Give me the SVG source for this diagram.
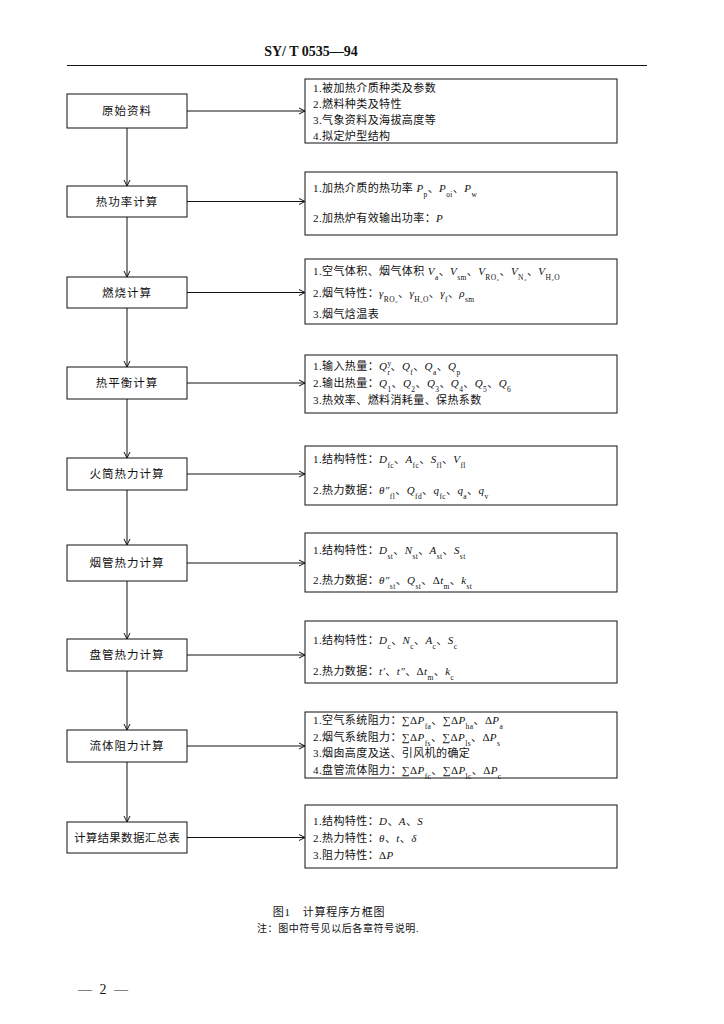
<svg xmlns="http://www.w3.org/2000/svg" width="724" height="1024" viewBox="0 0 724 1024">
<style>
.t{font-family:"Liberation Serif","Noto Sans CJK SC",serif;font-size:11px;fill:#111;letter-spacing:0.4px}
.lb{font-family:"Liberation Serif","Noto Sans CJK SC",serif;font-size:11.5px;fill:#111;text-anchor:middle;letter-spacing:1px}
.v{font-style:italic}
.s{font-size:7.5px;baseline-shift:sub}
.p{font-size:7.5px;baseline-shift:super}
.box{fill:#fff;stroke:#111;stroke-width:1}
.ln{stroke:#111;stroke-width:1;fill:none}
</style>
<defs>
<marker id="ah" markerWidth="8" markerHeight="8" refX="7" refY="4" orient="auto" markerUnits="userSpaceOnUse">
<path d="M1,1 L7,4 L1,7" fill="none" stroke="#111" stroke-width="1"/>
</marker>
</defs>
<rect width="724" height="1024" fill="#fff"/>
<text x="311" y="56" text-anchor="middle" font-family="Liberation Serif,serif" font-weight="bold" font-size="14" fill="#111">SY/ T 0535—94</text>
<line x1="67" y1="65.500" x2="647" y2="65.500" stroke="#111" stroke-width="1.200"/>

<g id="connectors">
<line class="ln" x1="127" y1="128" x2="127" y2="186" marker-end="url(#ah)"/>
<line class="ln" x1="127" y1="217" x2="127" y2="277" marker-end="url(#ah)"/>
<line class="ln" x1="127" y1="308" x2="127" y2="367" marker-end="url(#ah)"/>
<line class="ln" x1="127" y1="399" x2="127" y2="458" marker-end="url(#ah)"/>
<line class="ln" x1="127" y1="490" x2="127" y2="545" marker-end="url(#ah)"/>
<line class="ln" x1="127" y1="581" x2="127" y2="639" marker-end="url(#ah)"/>
<line class="ln" x1="127" y1="671" x2="127" y2="730" marker-end="url(#ah)"/>
<line class="ln" x1="127" y1="762" x2="127" y2="822" marker-end="url(#ah)"/>
<line class="ln" x1="187" y1="111" x2="305" y2="111" marker-end="url(#ah)"/>
<line class="ln" x1="187" y1="201.500" x2="305" y2="201.500" marker-end="url(#ah)"/>
<line class="ln" x1="187" y1="292.500" x2="305" y2="292.500" marker-end="url(#ah)"/>
<line class="ln" x1="187" y1="383" x2="305" y2="383" marker-end="url(#ah)"/>
<line class="ln" x1="187" y1="474" x2="305" y2="474" marker-end="url(#ah)"/>
<line class="ln" x1="187" y1="563" x2="305" y2="563" marker-end="url(#ah)"/>
<line class="ln" x1="187" y1="655" x2="305" y2="655" marker-end="url(#ah)"/>
<line class="ln" x1="187" y1="746" x2="305" y2="746" marker-end="url(#ah)"/>
<line class="ln" x1="187" y1="837.500" x2="305" y2="837.500" marker-end="url(#ah)"/>
</g>

<g id="n1"><rect class="box" x="67" y="94" width="120" height="34"/><text class="lb" x="127" y="115">原始资料</text></g>
<g id="n2"><rect class="box" x="67" y="186" width="120" height="31"/><text class="lb" x="127" y="205.500">热功率计算</text></g>
<g id="n3"><rect class="box" x="67" y="277" width="120" height="31"/><text class="lb" x="127" y="296.500">燃烧计算</text></g>
<g id="n4"><rect class="box" x="67" y="367" width="120" height="32"/><text class="lb" x="127" y="387">热平衡计算</text></g>
<g id="n5"><rect class="box" x="67" y="458" width="120" height="32"/><text class="lb" x="127" y="478">火筒热力计算</text></g>
<g id="n6"><rect class="box" x="67" y="545" width="120" height="36"/><text class="lb" x="127" y="567">烟管热力计算</text></g>
<g id="n7"><rect class="box" x="67" y="639" width="120" height="32"/><text class="lb" x="127" y="659">盘管热力计算</text></g>
<g id="n8"><rect class="box" x="67" y="730" width="120" height="32"/><text class="lb" x="127" y="750">流体阻力计算</text></g>
<g id="n9"><rect class="box" x="67" y="822" width="120" height="31"/><text class="lb" x="127" y="841.500" style="letter-spacing:0.3px">计算结果数据汇总表</text></g>

<g id="r1"><rect class="box" x="305" y="79" width="312" height="64"/>
<text class="t" x="313" y="92">1.被加热介质种类及参数</text>
<text class="t" x="313" y="108">2.燃料种类及特性</text>
<text class="t" x="313" y="124">3.气象资料及海拔高度等</text>
<text class="t" x="313" y="140">4.拟定炉型结构</text></g>

<g id="r2"><rect class="box" x="305" y="172" width="312" height="63"/>
<text class="t" x="313" y="192">1.加热介质的热功率 <tspan class="v">P</tspan><tspan class="s">p</tspan>、<tspan class="v">P</tspan><tspan class="s">oi</tspan>、<tspan class="v">P</tspan><tspan class="s">w</tspan></text>
<text class="t" x="313" y="222">2.加热炉有效输出功率：<tspan class="v">P</tspan></text></g>

<g id="r3"><rect class="box" x="305" y="259" width="312" height="65"/>
<text class="t" x="313" y="275">1.空气体积、烟气体积 <tspan class="v">V</tspan><tspan class="s">a</tspan>、<tspan class="v">V</tspan><tspan class="s">sm</tspan>、<tspan class="v">V</tspan><tspan class="s">RO₂</tspan>、<tspan class="v">V</tspan><tspan class="s">N₂</tspan>、<tspan class="v">V</tspan><tspan class="s">H₂O</tspan></text>
<text class="t" x="313" y="297">2.烟气特性：<tspan class="v">γ</tspan><tspan class="s">RO₂</tspan>、<tspan class="v">γ</tspan><tspan class="s">H₂O</tspan>、<tspan class="v">γ</tspan><tspan class="s">f</tspan>、<tspan class="v">ρ</tspan><tspan class="s">sm</tspan></text>
<text class="t" x="313" y="318">3.烟气焓温表</text></g>

<g id="r4"><rect class="box" x="305" y="355" width="312" height="58"/>
<text class="t" x="313" y="370">1.输入热量：<tspan class="v">Q</tspan><tspan class="p">y</tspan><tspan class="s" dx="-4">r</tspan>、<tspan class="v">Q</tspan><tspan class="s">f</tspan>、<tspan class="v">Q</tspan><tspan class="s">a</tspan>、<tspan class="v">Q</tspan><tspan class="s">p</tspan></text>
<text class="t" x="313" y="387">2.输出热量：<tspan class="v">Q</tspan><tspan class="s">1</tspan>、<tspan class="v">Q</tspan><tspan class="s">2</tspan>、<tspan class="v">Q</tspan><tspan class="s">3</tspan>、<tspan class="v">Q</tspan><tspan class="s">4</tspan>、<tspan class="v">Q</tspan><tspan class="s">5</tspan>、<tspan class="v">Q</tspan><tspan class="s">6</tspan></text>
<text class="t" x="313" y="404">3.热效率、燃料消耗量、保热系数</text></g>

<g id="r5"><rect class="box" x="305" y="446" width="312" height="59"/>
<text class="t" x="313" y="463">1.结构特性：<tspan class="v">D</tspan><tspan class="s">fc</tspan>、<tspan class="v">A</tspan><tspan class="s">fc</tspan>、<tspan class="v">S</tspan><tspan class="s">fl</tspan>、<tspan class="v">V</tspan><tspan class="s">fl</tspan></text>
<text class="t" x="313" y="494">2.热力数据：<tspan class="v">θ″</tspan><tspan class="s">fl</tspan>、<tspan class="v">Q</tspan><tspan class="s">fd</tspan>、<tspan class="v">q</tspan><tspan class="s">fc</tspan>、<tspan class="v">q</tspan><tspan class="s">a</tspan>、<tspan class="v">q</tspan><tspan class="s">v</tspan></text></g>

<g id="r6"><rect class="box" x="305" y="533" width="312" height="59"/>
<text class="t" x="313" y="554">1.结构特性：<tspan class="v">D</tspan><tspan class="s">st</tspan>、<tspan class="v">N</tspan><tspan class="s">st</tspan>、<tspan class="v">A</tspan><tspan class="s">st</tspan>、<tspan class="v">S</tspan><tspan class="s">st</tspan></text>
<text class="t" x="313" y="584">2.热力数据：<tspan class="v">θ″</tspan><tspan class="s">st</tspan>、<tspan class="v">Q</tspan><tspan class="s">st</tspan>、Δ<tspan class="v">t</tspan><tspan class="s">m</tspan>、<tspan class="v">k</tspan><tspan class="s">st</tspan></text></g>

<g id="r7"><rect class="box" x="305" y="621" width="312" height="62"/>
<text class="t" x="313" y="644">1.结构特性：<tspan class="v">D</tspan><tspan class="s">c</tspan>、<tspan class="v">N</tspan><tspan class="s">c</tspan>、<tspan class="v">A</tspan><tspan class="s">c</tspan>、<tspan class="v">S</tspan><tspan class="s">c</tspan></text>
<text class="t" x="313" y="675">2.热力数据：<tspan class="v">t′</tspan>、<tspan class="v">t″</tspan>、Δ<tspan class="v">t</tspan><tspan class="s">m</tspan>、<tspan class="v">k</tspan><tspan class="s">c</tspan></text></g>

<g id="r8"><rect class="box" x="305" y="712" width="312" height="66"/>
<text class="t" x="313" y="724">1.空气系统阻力：∑Δ<tspan class="v">P</tspan><tspan class="s">fa</tspan>、∑Δ<tspan class="v">P</tspan><tspan class="s">ha</tspan>、Δ<tspan class="v">P</tspan><tspan class="s">a</tspan></text>
<text class="t" x="313" y="741">2.烟气系统阻力：∑Δ<tspan class="v">P</tspan><tspan class="s">fs</tspan>、∑Δ<tspan class="v">P</tspan><tspan class="s">ls</tspan>、Δ<tspan class="v">P</tspan><tspan class="s">s</tspan></text>
<text class="t" x="313" y="757">3.烟囱高度及送、引风机的确定</text>
<text class="t" x="313" y="774">4.盘管流体阻力：∑Δ<tspan class="v">P</tspan><tspan class="s">fc</tspan>、∑Δ<tspan class="v">P</tspan><tspan class="s">lc</tspan>、Δ<tspan class="v">P</tspan><tspan class="s">c</tspan></text></g>

<g id="r9"><rect class="box" x="305" y="805" width="312" height="63"/>
<text class="t" x="313" y="825">1.结构特性：<tspan class="v">D</tspan>、<tspan class="v">A</tspan>、<tspan class="v">S</tspan></text>
<text class="t" x="313" y="842">2.热力特性：<tspan class="v">θ</tspan>、<tspan class="v">t</tspan>、<tspan class="v">δ</tspan></text>
<text class="t" x="313" y="859">3.阻力特性：Δ<tspan class="v">P</tspan></text></g>

<text x="329" y="916" text-anchor="middle" font-family="Liberation Serif,Noto Sans CJK SC,serif" font-size="11" fill="#111" letter-spacing="0.8">图1　计算程序方框图</text>
<text x="338" y="932" text-anchor="middle" font-family="Liberation Serif,Noto Sans CJK SC,serif" font-size="10" fill="#111" letter-spacing="0.6">注：图中符号见以后各章符号说明.</text>
<text x="78" y="994" font-family="Liberation Serif,Noto Sans CJK SC,serif" font-size="14" fill="#111" letter-spacing="2">— 2 —</text>
</svg>
